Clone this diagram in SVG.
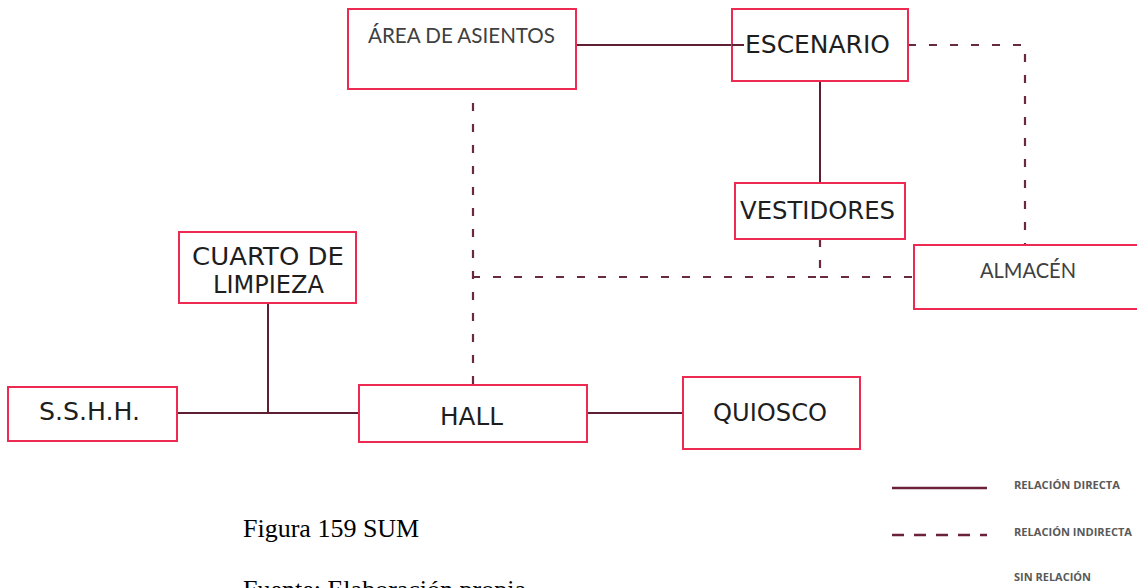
<svg xmlns="http://www.w3.org/2000/svg" width="1137" height="588" viewBox="0 0 1137 588">
<style>
.box{fill:#fff;stroke:#ec2a52;stroke-width:2}
.cad{font-family:"DejaVu Sans",sans-serif;fill:#1e1e1e;font-size:25px}
.cal{font-family:Lato,"Open Sans",sans-serif;fill:#404040}
.solid{fill:none;stroke:#5e1f33;stroke-width:2}
.dash{fill:none;stroke:#6a2a3e;stroke-width:2.2;stroke-dasharray:8 13}
.leg{font-family:"Open Sans",sans-serif;font-weight:bold;font-size:10px;fill:#595959}
.cap{font-family:"Liberation Serif",serif;font-size:26px;fill:#000}
</style>
<rect width="1137" height="588" fill="#fff"/>
<g id="connectors">
<line class="solid" x1="576" y1="45" x2="744" y2="45"/>
<polyline class="dash" points="908,45 1025,45 1025,245"/>
<line class="solid" x1="820" y1="81" x2="820" y2="183"/>
<polyline class="dash" points="820,239 820,277 473,277"/>
<line class="dash" x1="820" y1="277" x2="914" y2="277"/>
<line class="dash" x1="473" y1="103" x2="473" y2="385"/>
<line class="solid" x1="268" y1="303" x2="268" y2="413"/>
<line class="solid" x1="177" y1="413" x2="359" y2="413"/>
<line class="solid" x1="587" y1="413" x2="683" y2="413"/>
</g>
<g id="area-asientos">
<rect class="box" x="348" y="9" width="228" height="80"/>
<text class="cal" x="368" y="43" font-size="22" textLength="187" lengthAdjust="spacingAndGlyphs">ÁREA DE ASIENTOS</text>
</g>
<g id="escenario">
<rect class="box" x="732" y="9" width="176" height="72"/>
<line class="solid" x1="732" y1="45" x2="744" y2="45"/>
<text class="cad" x="745" y="53" textLength="145" lengthAdjust="spacingAndGlyphs">ESCENARIO</text>
</g>
<g id="vestidores">
<rect class="box" x="735" y="183" width="170" height="56"/>
<text class="cad" x="740" y="219" textLength="155" lengthAdjust="spacingAndGlyphs">VESTIDORES</text>
</g>
<g id="almacen">
<rect class="box" x="914" y="245" width="240" height="64"/>
<text class="cal" x="980" y="278" font-size="21" textLength="96" lengthAdjust="spacingAndGlyphs">ALMACÉN</text>
</g>
<g id="cuarto-limpieza">
<rect class="box" x="179" y="232" width="177" height="71"/>
<text class="cad" x="192" y="265" font-size="24" textLength="152" lengthAdjust="spacingAndGlyphs">CUARTO DE</text>
<text class="cad" x="213" y="293" font-size="24" textLength="111" lengthAdjust="spacingAndGlyphs">LIMPIEZA</text>
</g>
<g id="sshh">
<rect class="box" x="8" y="387" width="169" height="54"/>
<text class="cad" x="39" y="420" textLength="101" lengthAdjust="spacingAndGlyphs">S.S.H.H.</text>
</g>
<g id="hall">
<rect class="box" x="359" y="385" width="228" height="57"/>
<text class="cad" x="440" y="425" textLength="63" lengthAdjust="spacingAndGlyphs">HALL</text>
</g>
<g id="quiosco">
<rect class="box" x="683" y="377" width="177" height="72"/>
<text class="cad" x="713" y="421" textLength="114" lengthAdjust="spacingAndGlyphs">QUIOSCO</text>
</g>
<g id="legend">
<line x1="892" y1="488" x2="987" y2="488" stroke="#6b2238" stroke-width="2.5"/>
<text class="leg" x="1014" y="489" textLength="106" lengthAdjust="spacingAndGlyphs">RELACIÓN DIRECTA</text>
<line x1="892" y1="535" x2="987" y2="535" stroke="#6b2238" stroke-width="2.5" stroke-dasharray="12 10"/>
<text class="leg" x="1014" y="536" textLength="118" lengthAdjust="spacingAndGlyphs">RELACIÓN INDIRECTA</text>
<text class="leg" x="1014" y="581" textLength="77" lengthAdjust="spacingAndGlyphs">SIN RELACIÓN</text>
</g>
<g id="caption">
<text class="cap" x="243" y="537">Figura 159 SUM</text>
<text class="cap" x="243" y="598">Fuente: Elaboración propia</text>
</g>
</svg>
